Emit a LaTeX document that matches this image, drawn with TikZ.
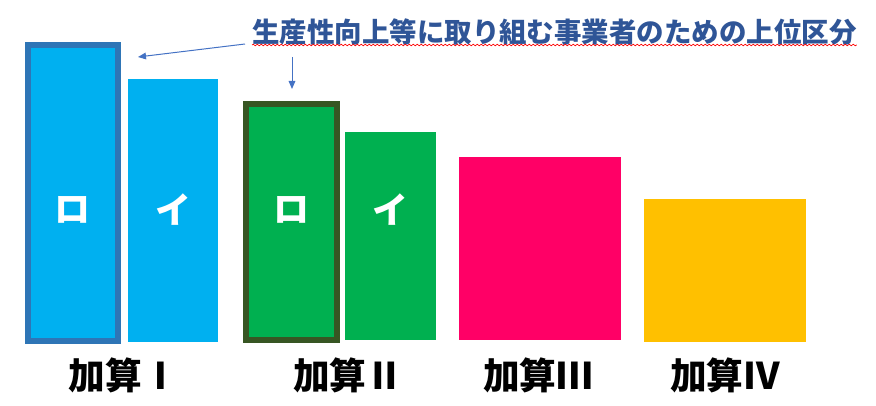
\documentclass[tikz,border=0pt]{standalone}
\usepackage{fontspec}
\setmainfont{Noto Sans CJK JP}
\usetikzlibrary{arrows.meta,decorations.pathmorphing}
\definecolor{skyblue}{HTML}{00B0F0}
\definecolor{edgeblue}{HTML}{2E75B6}
\definecolor{leafgreen}{HTML}{00B050}
\definecolor{edgegreen}{HTML}{375623}
\definecolor{rosered}{HTML}{FF0066}
\definecolor{amber}{HTML}{FFC000}
\definecolor{notenavy}{HTML}{2F5597}
\definecolor{arrowblue}{HTML}{4472C4}

\begin{document}
\begin{tikzpicture}[x=0.75pt,y=-0.75pt,
	bar/.style={anchor=north west,inner sep=0pt,outer sep=0pt,draw=none},
	kana/.style={text=white,font=\bfseries\fontsize{27}{27}\selectfont,inner sep=0pt},
	kasan/.style={font=\bfseries\fontsize{27.5}{27.5}\selectfont,inner sep=0pt},
	note/.style={arrowblue,line width=0.75pt,-{Triangle[length=6pt,width=5pt]}}]
	\useasboundingbox (0,0) rectangle (876,406);
	% bars
	\node[bar,fill=skyblue,draw=edgeblue,line width=4.5pt,minimum width=67.3pt,minimum height=222.2pt] (b1) at (28,45) {};
	\node[bar,fill=skyblue,minimum width=67.5pt,minimum height=197pt] (b2) at (128,79) {};
	\node[bar,fill=leafgreen,draw=edgegreen,line width=4.5pt,minimum width=68pt,minimum height=177pt] (g1) at (246,104) {};
	\node[bar,fill=leafgreen,minimum width=68.25pt,minimum height=156pt] (g2) at (345,132) {};
	\node[bar,fill=rosered,minimum width=121.5pt,minimum height=137.25pt] (p1) at (459,157) {};
	\node[bar,fill=amber,minimum width=121.5pt,minimum height=107.25pt] (y1) at (644,199) {};
	% kana in the bars
	\node[kana] (ro1) at (b1.center |- 0,210) {ロ};
	\node[kana] (i1) at (b2.center |- 0,210) {イ};
	\node[kana] (ro2) at (g1.center |- 0,210) {ロ};
	\node[kana] (i2) at (g2.center |- 0,210) {イ};
	% labels
	\node[kasan] (k1) at (124,375) {加算Ⅰ};
	\node[kasan] (k2) at (348,375) {加算Ⅱ};
	\node[kasan] (k3) at (538,375) {加算Ⅲ};
	\node[kasan] (k4) at (725,375) {加算Ⅳ};
	% note and arrows
	\node[anchor=west,inner sep=0pt,text=notenavy,font=\bfseries\fontsize{20.6}{20.6}\selectfont] (title) at (252,32) {生産性向上等に取り組む事業者のための上位区分};
	\draw[red,line width=0.5pt,decorate,decoration={snake,segment length=3pt,amplitude=0.6pt}] (title.west |- 0,45) -- (title.east |- 0,45);
	\coordinate (tipA) at (138,57);
	\coordinate (tipB) at (292,89);
	\draw[note] ([xshift=-5.25pt,yshift=-9pt]title.west) -- (tipA);
	\draw[note] (tipB |- 0,57) -- (tipB);
\end{tikzpicture}
\end{document}
